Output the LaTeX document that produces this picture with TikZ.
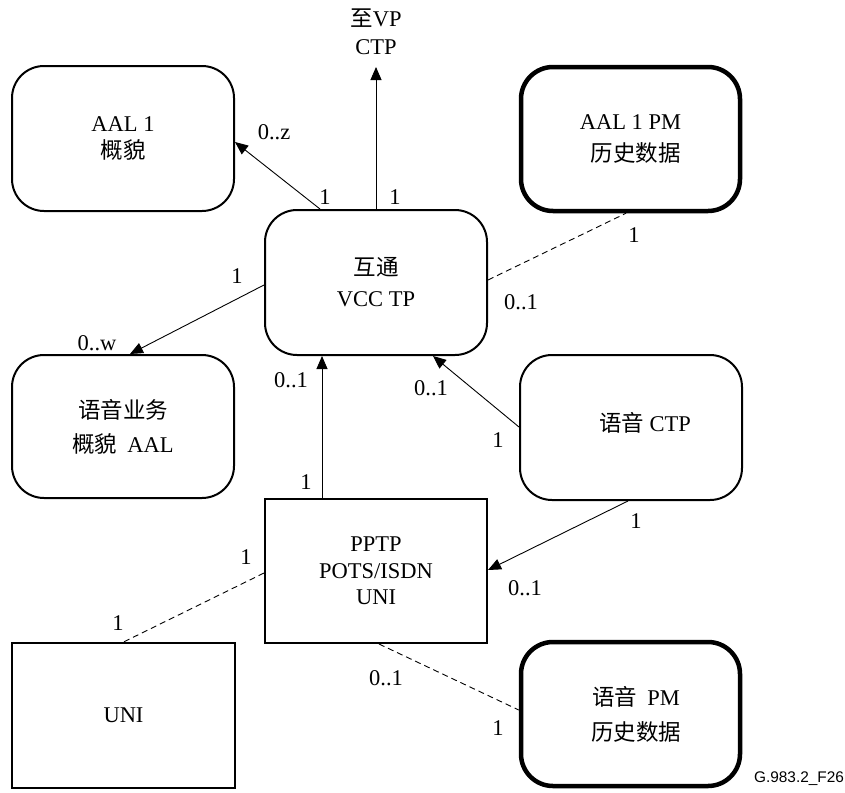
\documentclass[tikz,border=0pt]{standalone}
\usepackage{fontspec}
\setmainfont{Liberation Serif}
\newfontfamily\cjk{Noto Sans CJK SC}
\newfontfamily\figsans{Liberation Sans}
\usetikzlibrary{arrows.meta}
\newcommand\zhtext[1]{{\cjk #1}}
\begin{document}
\begin{tikzpicture}[x=1pt,y=-1pt,
  box/.style={draw, line width=2pt, rounded corners=32pt, minimum width=222pt,
    minimum height=145pt, align=center, inner sep=0pt},
  thickbox/.style={box, line width=4.5pt, minimum width=219pt, minimum height=144pt},
  sqbox/.style={box, rounded corners=0pt},
  conn/.style={line width=0.9pt, -{Triangle[length=13pt,width=11pt]}},
  dline/.style={line width=0.9pt, dash pattern=on 6pt off 4pt},
  lab/.style={font=\fontsize{22.5}{27}\selectfont, inner sep=0pt},
  bs/.style={font=\fontsize{22.5}{#1}\selectfont}
]
\useasboundingbox (0,0) rectangle (845,792);

% boxes
\node[box, bs=27] (aal1) at (123,138.5) {AAL 1\\\zhtext{概貌}};
\node[thickbox, bs=32] (aal1pm) at (630.5,139) {AAL 1 PM\\\hspace*{10pt}\zhtext{历史数据}};
\node[box, bs=31] (vcc) at (376,282.5) {\zhtext{互通}\\VCC TP};
\node[box, bs=34, minimum height=143pt] (voicesvc) at (123,426.5) {\zhtext{语音业务}\\\zhtext{概貌}\hspace{10pt}AAL};
\node[box, bs=27] (voicectp) at (631,427.5) {\hspace*{28pt}\raisebox{5pt}[\height][\depth]{\zhtext{语音} CTP}};
\node[sqbox, bs=26.5, minimum height=144pt] (pptp) at (376,571) {PPTP\\POTS/ISDN\\UNI};
\node[sqbox, bs=27, minimum width=223pt] (uni) at (123.5,715.5) {UNI};
\node[thickbox, bs=35] (voicepm) at (630.5,714) {\hspace*{11pt}\zhtext{语音}\hspace{10pt}PM\\\hspace*{11pt}\zhtext{历史数据}};

% top text
\coordinate (vp) at (376,67);
\node[lab, align=center, font=\fontsize{22.5}{28}\selectfont] (vptext) at (376,32) {\zhtext{至}VP\\CTP};

% connectors
\draw[conn] ([xshift=-56pt]vcc.north) -- ([yshift=-3.5pt]aal1.east);
\draw[conn] (vcc.north) -- (vp);
\draw[dline] ([yshift=2.5pt]vcc.east) -- ([xshift=-4.5pt]aal1pm.south);
\draw[conn] ([yshift=-2.5pt]vcc.west) -- ([xshift=7pt]voicesvc.north);
\draw[conn] ([xshift=-54pt]pptp.north) -- ([xshift=-54pt]vcc.south);
\draw[conn] ([yshift=0.5pt]voicectp.west) -- ([xshift=57pt]vcc.south);
\draw[conn] ([xshift=-3pt]voicectp.south) -- ([yshift=1pt]pptp.east);
\draw[dline] ([yshift=-2pt]pptp.west) -- (uni.north);
\draw[dline] ([xshift=3pt]pptp.south) -- ([yshift=4pt]voicepm.west);

% multiplicity labels
\node[lab] (l0z)  at (274,132) {0..z};
\node[lab] (l1a)  at (325,197) {1};
\node[lab] (l1b)  at (395,197) {1};
\node[lab] (l1c)  at (634,235) {1};
\node[lab] (l01a) at (521,302) {0..1};
\node[lab] (l1d)  at (237,276) {1};
\node[lab] (l0w)  at (97,343) {0..w};
\node[lab] (l01b) at (291,380) {0..1};
\node[lab] (l1e)  at (306,482) {1};
\node[lab] (l01c) at (431,388) {0..1};
\node[lab] (l1f)  at (498,440) {1};
\node[lab] (l1g)  at (636,521) {1};
\node[lab] (l01d) at (525,588) {0..1};
\node[lab] (l1h)  at (246,557) {1};
\node[lab] (l1i)  at (118,623) {1};
\node[lab] (l01e) at (386,678) {0..1};
\node[lab] (l1j)  at (498,728) {1};

\node[inner sep=0pt, font=\figsans\fontsize{15.4}{18}\selectfont] (fig) at (799,779) {G.983.2\_F26};
\end{tikzpicture}
\end{document}
